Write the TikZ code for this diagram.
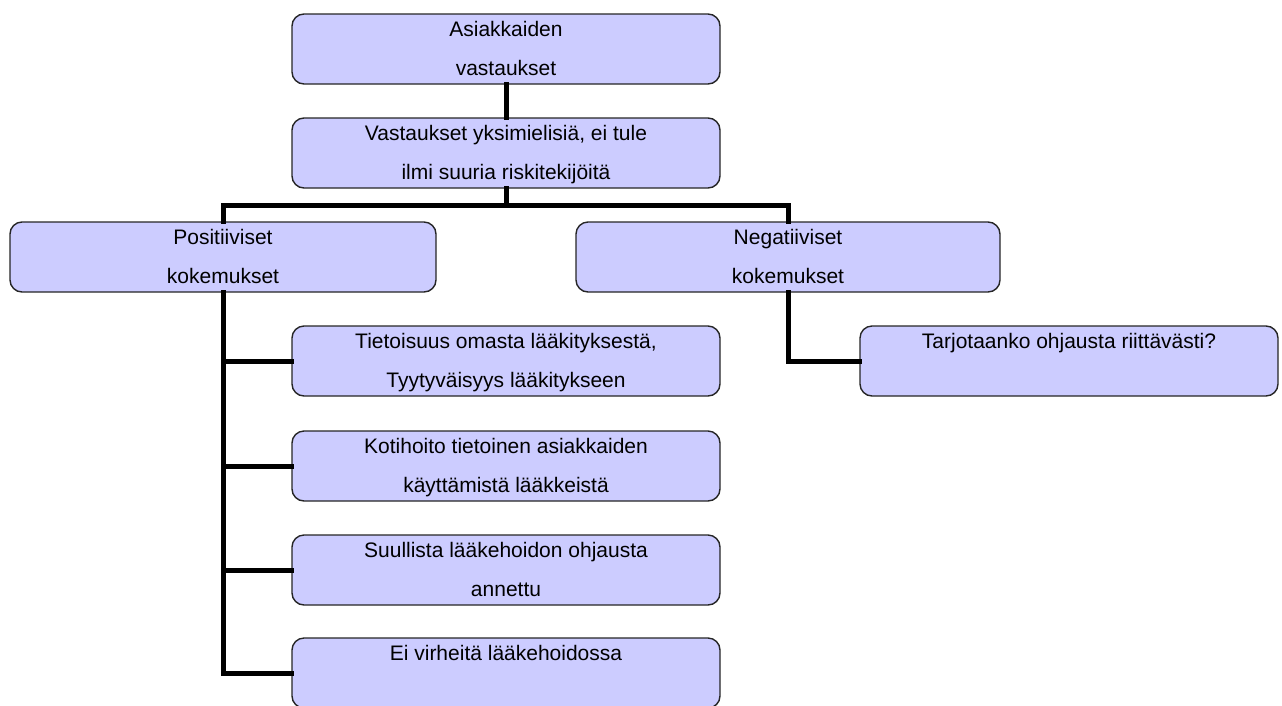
\documentclass[tikz,border=0pt]{standalone}
\usepackage{fontspec}
\setmainfont{Liberation Sans}
\newcommand\myst{\vphantom{Ägjy}}
\begin{document}
\begin{tikzpicture}[x=1pt,y=-1pt,
  box/.style={draw=black!85, line width=1.4pt, rounded corners=12pt, fill={rgb,255:red,204;green,204;blue,255},
    minimum width=428pt, minimum height=70pt, inner sep=0pt, align=center,
    font=\fontsize{21}{39}\selectfont},
  conn/.style={line width=5pt, line cap=rect, line join=miter}]
\useasboundingbox (0,0) rectangle (1282,705);
\node[box] (b1) at (506,49) {\myst Asiakkaiden\\\myst vastaukset};
\node[box] (b2) at (506,153) {\myst Vastaukset yksimielisiä, ei tule\\\myst ilmi suuria riskitekijöitä};
\node[box, minimum width=426pt] (b3) at (223,257) {\myst Positiiviset\\\myst kokemukset};
\node[box, minimum width=424pt] (b4) at (788,257) {\myst Negatiiviset\\\myst kokemukset};
\node[box, minimum width=418pt] (b5) at (1069,361) {\myst Tarjotaanko ohjausta riittävästi?\\\myst};
\node[box] (b6) at (506,361) {\myst Tietoisuus omasta lääkityksestä,\\\myst Tyytyväisyys lääkitykseen};
\node[box] (b7) at (506,466) {\myst Kotihoito tietoinen asiakkaiden\\\myst käyttämistä lääkkeistä};
\node[box] (b8) at (506,570) {\myst Suullista lääkehoidon ohjausta\\\myst annettu};
\node[box] (b9) at (506,673) {\myst Ei virheitä lääkehoidossa\\\myst};
\coordinate (split) at (506,205);
\draw[conn] (b1.south) -- (b2.north);
\draw[conn] (b2.south) -- (split) -| (b3.north);
\draw[conn] (split) -| (b4.north);
\draw[conn] (b3.south) |- (b9.west);
\draw[conn] (b3.south) |- (b6.west);
\draw[conn] (b3.south) |- (b7.west);
\draw[conn] (b3.south) |- (b8.west);
\draw[conn] (b4.south) |- (b5.west);
\end{tikzpicture}
\end{document}
